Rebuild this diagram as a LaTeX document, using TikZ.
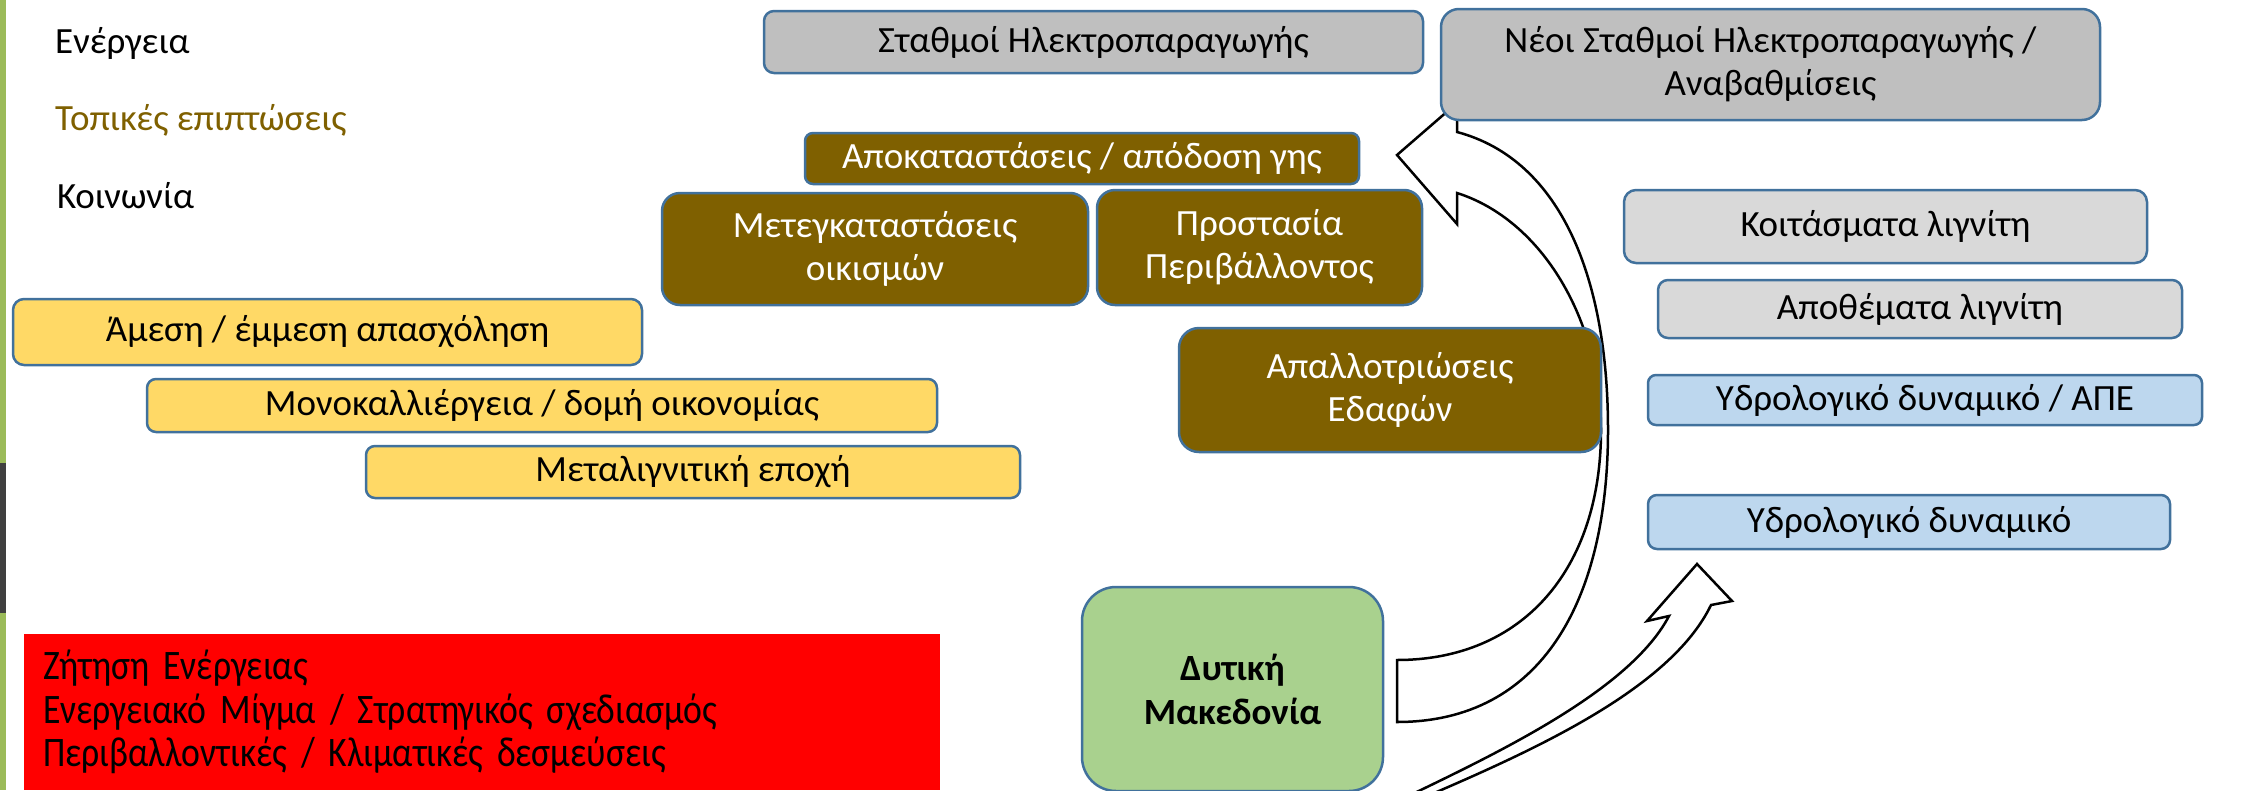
\documentclass[tikz,border=0pt]{standalone}
\usepackage{fontspec}
\setmainfont{Carlito}
\newfontfamily\narrowfont[FakeStretch=0.85,WordSpace=0.7]{Carlito}
\usepackage{tikz}
\usetikzlibrary{positioning}
\definecolor{boxBlue}{RGB}{65,113,156}
\definecolor{plantGray}{RGB}{191,191,191}
\definecolor{lignGray}{RGB}{217,217,217}
\definecolor{localBrown}{RGB}{127,96,0}
\definecolor{socYellow}{RGB}{255,217,102}
\definecolor{hydroBlue}{RGB}{189,215,238}
\definecolor{regionGreen}{RGB}{169,209,142}
\definecolor{barGreen}{RGB}{155,187,89}
\definecolor{barDark}{RGB}{64,64,64}

\begin{document}
\begin{tikzpicture}[x=1pt,y=-1pt,align=center]
            \tikzset{
                block/.style={
                    draw=boxBlue,
                    line width=2.5pt,
                    inner sep=0pt,
                    font=\fontsize{37}{43}\selectfont
                },
                energy/.style={block,fill=plantGray},
                lignite/.style={block,fill=lignGray},
                local/.style={block,fill=localBrown,text=white},
                society/.style={block,fill=socYellow},
                hydro/.style={block,fill=hydroBlue},
                legend/.style={anchor=west,inner sep=0pt,font=\fontsize{37}{43}\selectfont},
                bigarrow/.style={draw=black,fill=white,line width=2.5pt,line join=miter}
            }

            \useasboundingbox (0,0) rectangle (2243,790);

            % Left bar
            \fill[barGreen] (0,0) rectangle (6,790);
            \fill[barDark] (0,463) rectangle (6,613);

            % Legend
            \node[legend] (Leg_E) at (55,43) {Ενέργεια};
            \node[legend,text=localBrown] (Leg_L) at (55,120) {Τοπικές επιπτώσεις};
            \node[legend] (Leg_S) at (57,196) {Κοινωνία};

            % Arrows
            %% Back to the new plants
            \draw[bigarrow]
                (1397,660) .. controls (1522,660) and (1601,570) .. (1601,430)
                .. controls (1601,320) and (1542,220) .. (1457,193)
                -- (1457,224) -- (1397,155) -- (1457,103) -- (1457,132)
                .. controls (1562,160) and (1608,280) .. (1608,430)
                .. controls (1608,600) and (1542,722) .. (1397,722) -- cycle;
            %% Up to the hydro potential
            \draw[bigarrow]
                (1400,800) .. controls (1500,752) and (1630,690) .. (1669,616)
                -- (1647,621) -- (1697,564) -- (1732,601) -- (1711,605)
                .. controls (1670,690) and (1530,752) .. (1418,800) -- cycle;

            % Energy
            \node[energy,rounded corners=10pt,minimum width=659pt,minimum height=62pt]
                (E_Plants) at (1093.5,42) {Σταθμοί Ηλεκτροπαραγωγής};
            \node[energy,rounded corners=18pt,minimum width=659pt,minimum height=111pt]
                (E_NewPlants) at (1770.5,64.5) {Νέοι Σταθμοί Ηλεκτροπαραγωγής /\\Αναβαθμίσεις};
            \node[lignite,rounded corners=12pt,minimum width=523pt,minimum height=73pt]
                (E_Deposits) at (1885.5,226.5) {Κοιτάσματα λιγνίτη};
            \node[lignite,rounded corners=10pt,minimum width=524pt,minimum height=58pt]
                (E_Reserves) at (1920,309) {Αποθέματα λιγνίτη};
            \node[hydro,rounded corners=8pt,minimum width=554pt,minimum height=50pt]
                (E_HydroRES) at (1925,400) {Υδρολογικό δυναμικό / ΑΠΕ};
            \node[hydro,rounded corners=9pt,minimum width=522pt,minimum height=54pt]
                (E_Hydro) at (1909,522) {Υδρολογικό δυναμικό};

            % Local impacts
            \node[local,rounded corners=8pt,minimum width=554pt,minimum height=51pt]
                (L_Restore) at (1082,158.5) {Αποκαταστάσεις / απόδοση γης};
            \node[local,rounded corners=18pt,minimum width=426pt,minimum height=112pt]
                (L_Reloc) at (875,249) {Μετεγκαταστάσεις\\οικισμών};
            \node[local,rounded corners=18pt,minimum width=325pt,minimum height=115pt]
                (L_Environ) at (1259.5,247.5) {Προστασία\\Περιβάλλοντος};
            \node[local,rounded corners=20pt,minimum width=422pt,minimum height=124pt]
                (L_Expropr) at (1390,390) {Απαλλοτριώσεις\\Εδαφών};

            % Society
            \node[society,rounded corners=11pt,minimum width=629pt,minimum height=66pt]
                (S_Jobs) at (327.5,332) {Άμεση / έμμεση απασχόληση};
            \node[society,rounded corners=9pt,minimum width=790pt,minimum height=53pt]
                (S_Economy) at (542,405.5) {Μονοκαλλιέργεια / δομή οικονομίας};
            \node[society,rounded corners=9pt,minimum width=654pt,minimum height=52pt]
                (S_PostLignite) at (693,472) {Μεταλιγνιτική εποχή};

            % Region
            \node[block,fill=regionGreen,rounded corners=34pt,minimum width=301pt,minimum height=204pt,
                font=\fontsize{37}{44}\selectfont\bfseries]
                (Region) at (1232.5,689) {Δυτική\\Μακεδονία};

            % Drivers
            \node[fill=red,inner xsep=19pt,inner ysep=0pt,text width=878pt,minimum height=156pt,align=left,
                font=\fontsize{42}{43.5}\selectfont\narrowfont]
                (Drivers) at (482,712) {Ζήτηση Ενέργειας\\Ενεργειακό Μίγμα / Στρατηγικός σχεδιασμός\\Περιβαλλοντικές / Κλιματικές δεσμεύσεις};
        \end{tikzpicture}
\end{document}
